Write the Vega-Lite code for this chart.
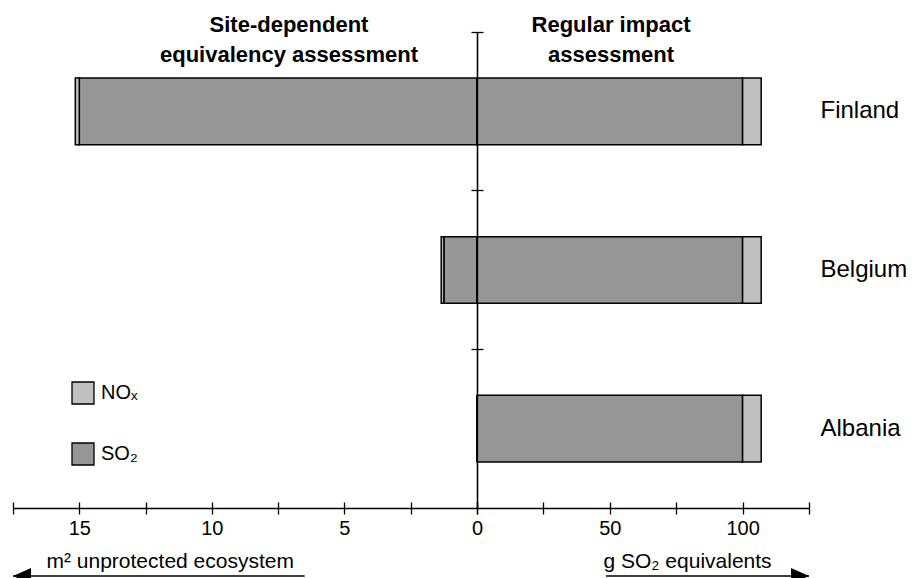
{
  "$schema": "https://vega.github.io/schema/vega-lite/v6.json",
  "padding": {"left": 12, "top": 14, "right": 0, "bottom": 0},
  "config": {
    "view": {"stroke": null},
    "font": "Liberation Sans",
    "axis": {"domainColor": "black", "tickColor": "black", "domainWidth": 1.3, "tickWidth": 1.3, "labelColor": "black", "titleColor": "black", "labelFont": "Liberation Sans", "titleFont": "Liberation Sans", "grid": false, "labelFlush": false},
    "title": {"font": "Liberation Sans", "color": "black"}
  },
  "data": {"values": [
    {"country": "Finland", "side": "site", "substance": "SO₂", "value": 15.0},
    {"country": "Finland", "side": "site", "substance": "NOₓ", "value": 0.15},
    {"country": "Belgium", "side": "site", "substance": "SO₂", "value": 1.25},
    {"country": "Belgium", "side": "site", "substance": "NOₓ", "value": 0.1},
    {"country": "Albania", "side": "site", "substance": "SO₂", "value": 0},
    {"country": "Albania", "side": "site", "substance": "NOₓ", "value": 0},
    {"country": "Finland", "side": "regular", "substance": "SO₂", "value": 100},
    {"country": "Finland", "side": "regular", "substance": "NOₓ", "value": 7},
    {"country": "Belgium", "side": "regular", "substance": "SO₂", "value": 100},
    {"country": "Belgium", "side": "regular", "substance": "NOₓ", "value": 7},
    {"country": "Albania", "side": "regular", "substance": "SO₂", "value": 100},
    {"country": "Albania", "side": "regular", "substance": "NOₓ", "value": 7}
  ]},
  "columns": 2,
  "spacing": {"row": 60, "column": 0},
  "bounds": "flush",
  "resolve": {"scale": {"color": "independent"}, "legend": {"color": "independent"}},
  "concat": [
    {
      "width": 464, "height": 476,
      "title": {"text": ["Site-dependent", "equivalency assessment"], "frame": "group", "anchor": "middle", "baseline": "alphabetic", "offset": -53, "dx": 44, "fontSize": 22, "fontWeight": "bold", "lineHeight": 30},
      "transform": [{"filter": "datum.side === 'site'"}],
      "layer": [
        {
          "mark": {"type": "bar", "stroke": "black", "strokeWidth": 1.5, "height": {"band": 0.42}},
          "encoding": {
            "y": {"field": "country", "type": "nominal", "scale": {"domain": ["Finland", "Belgium", "Albania"], "paddingInner": 0, "paddingOuter": 0}, "axis": {"orient": "right", "labels": false, "title": null, "bandPosition": 0, "tickSize": 6, "zindex": 1}},
            "x": {"field": "value", "type": "quantitative", "stack": "zero", "scale": {"domain": [0, 17.5], "reverse": true, "nice": false},
              "axis": {"orient": "bottom", "values": [0, 2.5, 5, 7.5, 10, 12.5, 15, 17.5], "labelExpr": "datum.value > 0 && datum.value % 5 === 0 ? datum.label : ''", "tickSize": 6, "labelFontSize": 20, "labelPadding": 4, "labelDx": -6, "labelOverlap": false,
                "title": "m² unprotected ecosystem", "titleFontSize": 21, "titleFontWeight": "normal", "titleX": 33, "titleY": 59, "titleAlign": "left", "titleAnchor": "start", "titleBaseline": "alphabetic"}},
            "color": {"field": "substance", "type": "nominal", "scale": {"domain": ["NOₓ", "SO₂"], "range": ["#c0c0c0", "#969696"]},
              "legend": {"orient": "none", "legendX": 58, "legendY": 349, "title": null, "direction": "vertical", "symbolType": "square", "symbolSize": 484, "symbolStrokeColor": "black", "symbolStrokeWidth": 1.3, "symbolOpacity": 1, "labelFontSize": 20, "labelFont": "Liberation Sans", "labelColor": "black", "rowPadding": 33, "labelOffset": 6, "padding": 0}},
            "order": {"field": "substance", "sort": "descending"}
          }
        },
        {
          "mark": {"type": "bar", "opacity": 0, "height": {"band": 0.42}},
          "encoding": {
            "y": {"field": "country", "type": "nominal", "axis": null},
            "x": {"field": "value", "type": "quantitative", "scale": {"domain": [0, 17.5], "reverse": true, "nice": false},
              "axis": {"orient": "bottom", "values": [0, 2.5, 5, 7.5, 10, 12.5, 15, 17.5], "labels": false, "domain": false, "tickSize": -6, "title": null}}
          }
        }
      ],
      "resolve": {"axis": {"x": "independent", "y": "independent"}}
    },
    {
      "width": 332, "height": 476,
      "title": {"text": ["Regular impact", "assessment"], "frame": "group", "anchor": "middle", "baseline": "alphabetic", "offset": -53, "dx": -32, "fontSize": 22, "fontWeight": "bold", "lineHeight": 30},
      "transform": [{"filter": "datum.side === 'regular'"}],
      "layer": [
        {
          "mark": {"type": "bar", "stroke": "black", "strokeWidth": 1.5, "height": {"band": 0.42}},
          "encoding": {
            "y": {"field": "country", "type": "nominal", "scale": {"domain": ["Finland", "Belgium", "Albania"], "paddingInner": 0, "paddingOuter": 0}, "axis": {"orient": "left", "labels": false, "title": null, "bandPosition": 0, "tickSize": 6, "zindex": 1}},
            "x": {"field": "value", "type": "quantitative", "stack": "zero", "scale": {"domain": [0, 125], "nice": false},
              "axis": {"orient": "bottom", "values": [0, 25, 50, 75, 100, 125], "labelExpr": "datum.value % 50 === 0 ? datum.label : ''", "tickSize": 6, "labelFontSize": 20, "labelPadding": 4, "labelDx": -6, "labelOverlap": false,
                "title": "g SO₂ equivalents", "titleFontSize": 21, "titleFontWeight": "normal", "titleX": 126, "titleY": 59, "titleAlign": "left", "titleAnchor": "start", "titleBaseline": "alphabetic"}},
            "color": {"field": "substance", "type": "nominal", "scale": {"domain": ["NOₓ", "SO₂"], "range": ["#c0c0c0", "#969696"]}, "legend": null},
            "order": {"field": "substance", "sort": "descending"}
          }
        },
        {
          "mark": {"type": "bar", "opacity": 0, "height": {"band": 0.42}},
          "encoding": {
            "y": {"field": "country", "type": "nominal", "axis": {"orient": "right", "domain": false, "ticks": false, "tickSize": 0, "labelFontSize": 24, "labelPadding": 11, "title": null, "labelColor": "black"}},
            "x": {"field": "value", "type": "quantitative", "scale": {"domain": [0, 125], "nice": false},
              "axis": {"orient": "bottom", "values": [0, 25, 50, 75, 100, 125], "labels": false, "domain": false, "tickSize": -6, "title": null}}
          }
        }
      ],
      "resolve": {"axis": {"x": "independent", "y": "independent"}}
    },
    {
      "width": 464, "height": 16,
      "data": {"values": [{"arrow": "m2"}]},
      "layer": [
        {"mark": {"type": "rule", "strokeWidth": 1.5, "color": "black"},
         "encoding": {"x": {"datum": 17.5, "type": "quantitative", "scale": {"domain": [0, 17.5], "reverse": true, "nice": false}, "axis": null}, "x2": {"datum": 6.5}}},
        {"mark": {"type": "point", "shape": "M0,0L2,-0.9L2,0.9Z", "filled": true, "color": "black", "size": 324, "opacity": 1},
         "encoding": {"x": {"datum": 17.5, "type": "quantitative", "scale": {"domain": [0, 17.5], "reverse": true, "nice": false}, "axis": null}}}
      ]
    },
    {
      "width": 332, "height": 16,
      "data": {"values": [{"arrow": "g"}]},
      "layer": [
        {"mark": {"type": "rule", "strokeWidth": 1.5, "color": "black"},
         "encoding": {"x": {"datum": 48.6, "type": "quantitative", "scale": {"domain": [0, 125], "nice": false}, "axis": null}, "x2": {"datum": 125}}},
        {"mark": {"type": "point", "shape": "M0,0L-2,-0.9L-2,0.9Z", "filled": true, "color": "black", "size": 324, "opacity": 1},
         "encoding": {"x": {"datum": 125, "type": "quantitative", "scale": {"domain": [0, 125], "nice": false}, "axis": null}}}
      ]
    }
  ]
}
